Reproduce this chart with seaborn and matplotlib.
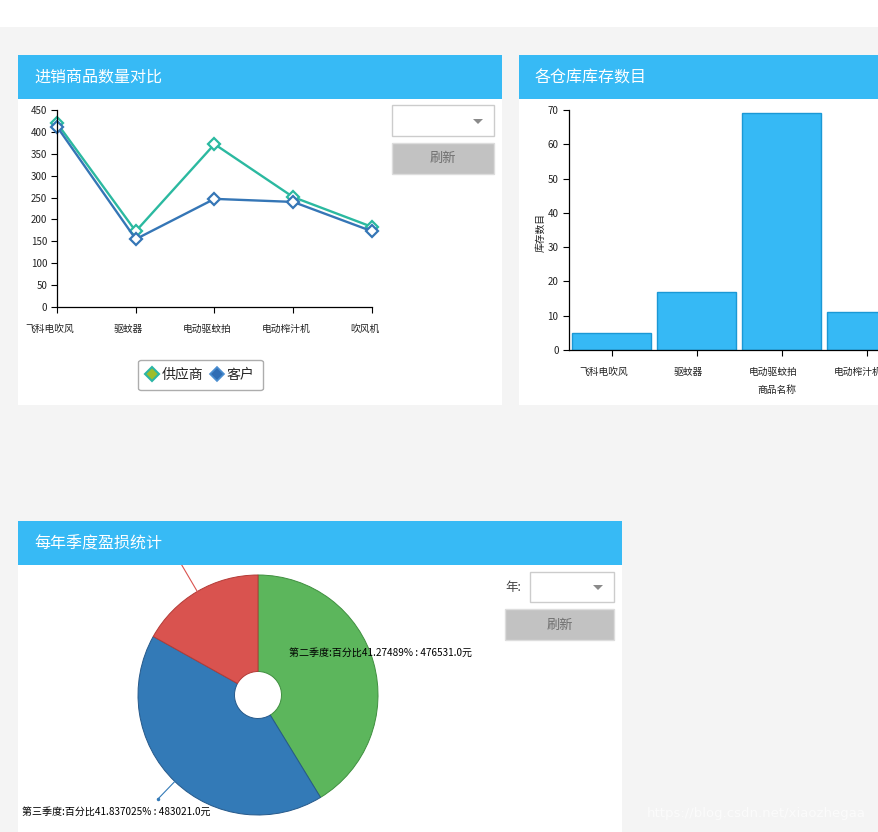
import matplotlib
matplotlib.use("Agg")
import matplotlib.pyplot as plt
import seaborn as sns
import pandas as pd
import numpy as np
from matplotlib.patches import Rectangle, Polygon
from matplotlib.lines import Line2D
from matplotlib.transforms import ScaledTranslation

sns.set_theme(style="ticks")
plt.rcParams['font.family'] = ['Noto Sans CJK SC', 'DejaVu Sans']
plt.rcParams['axes.unicode_minus'] = False

# ---------------- data ----------------
products = ["飞科电吹风", "驱蚊器", "电动驱蚊拍", "电动榨汁机", "吹风机"]
supplier_qty = [420, 173, 372, 251, 183]
customer_qty = [412, 155, 247, 240, 173]
series_names = ["供应商", "客户"]

stock_products = ["飞科电吹风", "驱蚊器", "电动驱蚊拍", "电动榨汁机"]
stock_qty = [5, 17, 69, 11]

quarters = ["第二季度", "第三季度", "第四季度"]
quarter_pct = [41.27489, 41.837025, 16.888085]
quarter_amount = [476531.0, 483021.0, 194979.0]

# ---------------- styling ----------------
W, H = 879, 832
BG = "#f4f4f4"
HEAD = "#37baf5"
TEAL = "#2bb9a0"
BLUE = "#3576b6"
BAR = "#36b9f5"
BAR_EDGE = "#1b98d5"
PIE_COLORS = ["#5cb65c", "#337ab7", "#d9534f"]
PIE_EDGES = ["#3f8f3f", "#26598a", "#b33b37"]

fig = plt.figure(figsize=(W / 100, H / 100), dpi=100, facecolor=BG)


def fx(x):
    return x / W


def fy(y):
    return 1 - y / H


def rect(x0, y0, x1, y1, z=-10, **kw):
    r = Rectangle((fx(x0), fy(y1)), (x1 - x0) / W, (y1 - y0) / H,
                  transform=fig.transFigure, zorder=z, **kw)
    fig.add_artist(r)
    return r


def ftext(x, y, s, z=11, **kw):
    fig.text(fx(x), fy(y), s, zorder=z, **kw)


def shift_xlabels(ax, dx_px):
    off = ScaledTranslation(dx_px / 100, 0, fig.dpi_scale_trans)
    for lab in ax.get_xticklabels():
        lab.set_transform(lab.get_transform() + off)


# top white strip
rect(0, 0, W, 27, facecolor="white", edgecolor="none")

# panels
rect(18, 55, 502, 405, facecolor="white", edgecolor="none")
rect(519, 55, W + 5, 405, facecolor="white", edgecolor="none")
rect(18, 521, 622, H + 5, facecolor="white", edgecolor="none")

# headers
for (x0, y0, x1, title) in [(18, 55, 502, "进销商品数量对比"),
                            (519, 55, W + 5, "各仓库库存数目"),
                            (18, 521, 622, "每年季度盈损统计")]:
    rect(x0, y0, x1, y0 + 44, z=10, facecolor=HEAD, edgecolor="none")
    ftext(x0 + 16, y0 + 23, title, color="white", fontsize=11.5,
          va="center", ha="left")

# ---------------- line chart ----------------
ax1 = fig.add_axes([fx(57), fy(307), (372 - 57) / W, (307 - 110) / H])
ax1.set_facecolor("none")
df_line = pd.DataFrame({
    "商品": products * 2,
    "数量": supplier_qty + customer_qty,
    "类型": [series_names[0]] * len(products) + [series_names[1]] * len(products),
})
pal = {series_names[0]: TEAL, series_names[1]: BLUE}
sns.lineplot(data=df_line, x="商品", y="数量", hue="类型", palette=pal,
             sort=False, errorbar=None, marker="D", markersize=6.3,
             linewidth=1.7, legend=False, ax=ax1)
for line in ax1.lines:
    c = line.get_color()
    line.set_markerfacecolor("white")
    line.set_markeredgecolor(c)
    line.set_markeredgewidth(1.6)
    line.set_clip_on(False)
ax1.set_xlim(0, len(products) - 1)
ax1.set_ylim(0, 450)
ax1.set_yticks(range(0, 451, 50))
ax1.set_xlabel("")
ax1.set_ylabel("")
ax1.tick_params(labelsize=7, length=4, width=0.8, color="black",
                labelcolor="#222222", pad=3)
ax1.tick_params(axis="x", pad=8)
sns.despine(ax=ax1)
for s in ["left", "bottom"]:
    ax1.spines[s].set_color("black")
    ax1.spines[s].set_linewidth(0.9)
shift_xlabels(ax1, -7)

handles = [
    Line2D([], [], marker="D", linestyle="none", markersize=7,
           markerfacecolor="#9dbd2c", markeredgecolor="#2bb5a5",
           markeredgewidth=1.5, label=series_names[0]),
    Line2D([], [], marker="D", linestyle="none", markersize=7,
           markerfacecolor="#2f6db4", markeredgecolor="#4a8ed0",
           markeredgewidth=1.2, label=series_names[1]),
]
leg = ax1.legend(handles=handles, loc="center", ncol=2,
                 bbox_to_anchor=(fx(200.5), fy(375)),
                 bbox_transform=fig.transFigure, fontsize=10,
                 frameon=True, fancybox=True, handlelength=0.8,
                 handletextpad=0.3, columnspacing=0.6, borderpad=0.6)
leg.get_frame().set_edgecolor("#999999")
leg.get_frame().set_linewidth(1.0)

# controls for panel 1
rect(392, 105, 494, 136, z=5, facecolor="white", edgecolor="#cccccc", linewidth=1)
fig.add_artist(Polygon([(fx(473), fy(119)), (fx(483), fy(119)), (fx(478), fy(124))],
                       closed=True, transform=fig.transFigure,
                       facecolor="#8a8a8a", edgecolor="none", zorder=6))
rect(392, 143, 494, 174, z=5, facecolor="#c2c2c2", edgecolor="#dddddd", linewidth=1)
ftext(443, 158, "刷新", color="#6e6e6e", fontsize=9.5, ha="center", va="center")

# ---------------- bar chart ----------------
ax2 = fig.add_axes([fx(569), fy(350), (994 - 569) / W, (350 - 110) / H])
ax2.set_facecolor("none")
sns.barplot(x=stock_products, y=stock_qty, color=BAR, saturation=1,
            edgecolor=BAR_EDGE, linewidth=1, width=0.94, ax=ax2)
ax2.set_xlim(-0.5, 4.5)
ax2.set_ylim(0, 70)
ax2.set_yticks(range(0, 71, 10))
ax2.tick_params(labelsize=7, length=4, width=0.8, color="black",
                labelcolor="#222222")
ax2.tick_params(axis="x", pad=8)
ax2.set_ylabel("库存数目", fontsize=7, color="#222222")
ax2.set_xlabel("商品名称", fontsize=7, color="#222222")
ax2.yaxis.set_label_coords(-0.054, 0.49)
ax2.xaxis.set_label_coords(0.489, -0.146)
sns.despine(ax=ax2)
for s in ["left", "bottom"]:
    ax2.spines[s].set_color("black")
    ax2.spines[s].set_linewidth(0.9)
shift_xlabels(ax2, -8)

# ---------------- pie (donut) chart ----------------
R = 120.0
ax3 = fig.add_axes([fx(258 - R), fy(695 + R), 2 * R / W, 2 * R / H])
wedges, _ = ax3.pie(quarter_pct, colors=PIE_COLORS, startangle=90,
                    counterclock=False, radius=1,
                    wedgeprops=dict(width=1 - 23.5 / R, linewidth=0.7))
for w, ec in zip(wedges, PIE_EDGES):
    w.set_edgecolor(ec)
ax3.set_xlim(-1, 1)
ax3.set_ylim(-1, 1)

# leader lines from slice mid-angles
for i, w in enumerate(wedges):
    if i == 0:
        continue
    mid = np.deg2rad((w.theta1 + w.theta2) / 2)
    c, s = np.cos(mid), np.sin(mid)
    r_out = 1.2 if i == 1 else 1.45
    ax3.plot([c, c * r_out], [s, s * r_out], color=PIE_COLORS[i],
             linewidth=0.8, clip_on=False)
    if i == 1:
        ax3.plot([c * r_out], [s * r_out], marker="o", markersize=1.5,
                 color=PIE_COLORS[i], clip_on=False)


def pie_label(i):
    return f"{quarters[i]}:百分比{quarter_pct[i]}% : {quarter_amount[i]:.1f}元"


ax3.text(0.26, 0.35, pie_label(0), fontsize=7.2, color="black",
         ha="left", va="center", clip_on=False)
ax3.text(-1.967, -0.975, pie_label(1), fontsize=7.2, color="black",
         ha="left", va="center", clip_on=False)

# controls for panel 3
ftext(513, 587, "年:", color="#444444", fontsize=9, ha="center", va="center")
rect(530, 572, 614, 602, z=5, facecolor="white", edgecolor="#cccccc", linewidth=1)
fig.add_artist(Polygon([(fx(593), fy(585)), (fx(603), fy(585)), (fx(598), fy(590))],
                       closed=True, transform=fig.transFigure,
                       facecolor="#8a8a8a", edgecolor="none", zorder=6))
rect(505, 609, 614, 640, z=5, facecolor="#c2c2c2", edgecolor="#dddddd", linewidth=1)
ftext(560, 625, "刷新", color="#6e6e6e", fontsize=9.5, ha="center", va="center")

# watermark
ftext(756, 813, "https://blog.csdn.net/xiaozhegaa", color="white", alpha=0.65,
      fontsize=9.5, ha="center", va="center", family=["DejaVu Sans"])

fig.savefig("out.png", dpi=100, facecolor=BG)
